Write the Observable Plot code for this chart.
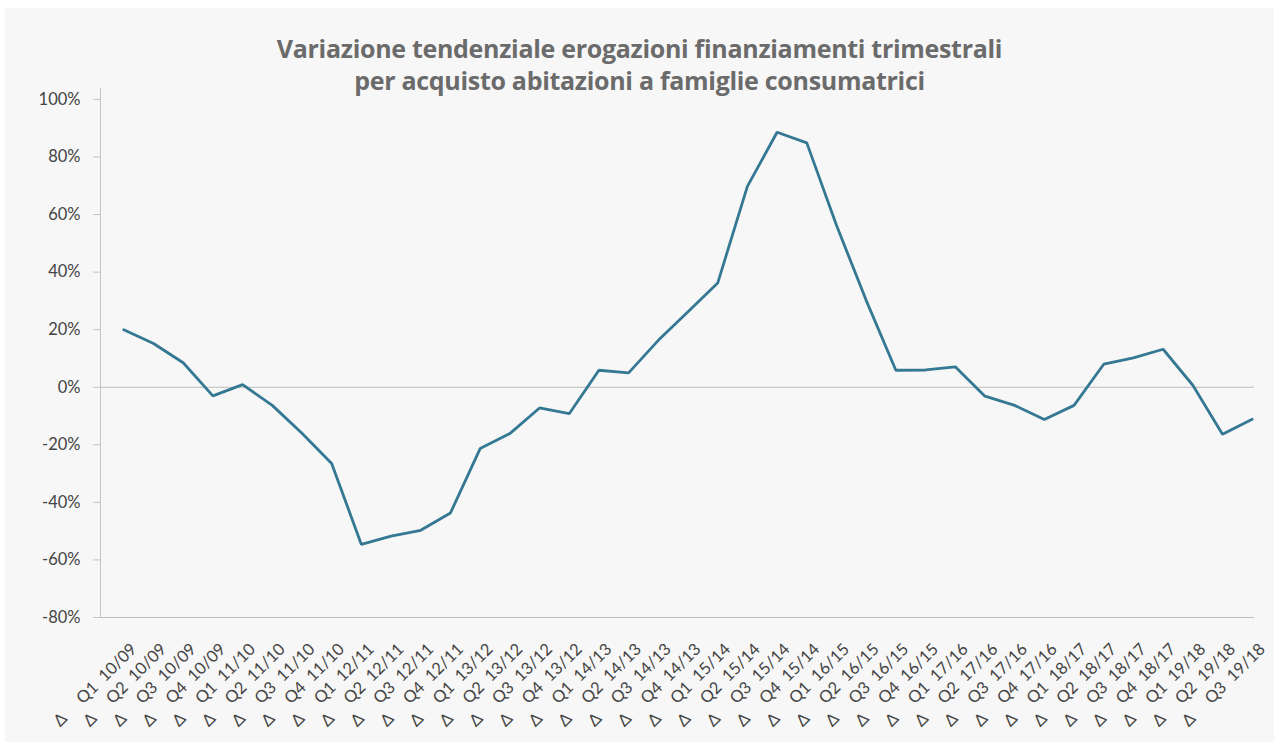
<!DOCTYPE html>
<html>
<head>
<meta charset="utf-8">
<script src="https://cdn.jsdelivr.net/npm/d3@7"></script>
<script src="https://cdn.jsdelivr.net/npm/@observablehq/plot@0.6"></script>
<style>
  html, body { margin: 0; padding: 0; background: #ffffff; }
  #panel { position: absolute; left: 5px; top: 8px; width: 1269px; height: 734px; background: #f7f7f7; }
  #title { position: absolute; left: 5px; top: 32px; width: 1269px; text-align: center;
           font-family: "Open Sans", sans-serif; font-weight: 700; font-size: 25px; line-height: 32px;
           color: #6b6b6b; letter-spacing: -0.3px; }
  #chart { position: absolute; left: 0; top: 80px; }
</style>
</head>
<body>
<div id="panel"></div>
<div id="title">Variazione tendenziale erogazioni finanziamenti trimestrali<br>per acquisto abitazioni a famiglie consumatrici</div>
<div id="chart"></div>
<script>
const quarters = ["Q1","Q2","Q3","Q4","Q1","Q2","Q3","Q4","Q1","Q2","Q3","Q4","Q1","Q2","Q3","Q4","Q1","Q2","Q3","Q4",
                  "Q1","Q2","Q3","Q4","Q1","Q2","Q3","Q4","Q1","Q2","Q3","Q4","Q1","Q2","Q3","Q4","Q1","Q2","Q3"];
const years = ["10/09","10/09","10/09","10/09","11/10","11/10","11/10","11/10","12/11","12/11","12/11","12/11",
               "13/12","13/12","13/12","13/12","14/13","14/13","14/13","14/13","15/14","15/14","15/14","15/14",
               "16/15","16/15","16/15","16/15","17/16","17/16","17/16","17/16","18/17","18/17","18/17","18/17",
               "19/18","19/18","19/18"];
const values = [20, 15.2, 8.5, -3, 0.9, -6.3, -16, -26.5, -54.6, -51.7, -49.7, -43.7, -21.3, -16.1, -7.2, -9.2,
                5.9, 5, 16.3, 26.2, 36.2, 69.8, 88.6, 84.9, 56.3, 30.2, 5.9, 6, 7.1, -3.1, -6.3, -11.2, -6.3,
                8, 10.2, 13.2, 0.7, -16.3, -11.1];
const yTicks = [-80, -60, -40, -20, 0, 20, 40, 60, 80, 100];

const nb = "\u00a0";
const labels = quarters.map((q, i) => `Δ${nb.repeat(5)}${q}${nb.repeat(2)}${years[i]}`);
const data = values.map((value, i) => ({i, label: labels[i], value}));

const font = "Lato, 'Open Sans', sans-serif";
const chart = Plot.plot({
  width: 1274,
  height: 662,
  marginTop: 8,
  marginBottom: 125,
  marginLeft: 100,
  marginRight: 20,
  style: {background: "transparent", fontFamily: font, overflow: "visible"},
  x: {type: "linear", domain: [0, labels.length - 1], range: [123.3, 1251.7], axis: null},
  y: {domain: [-80, 103.8], axis: null},
  marks: [
    Plot.frame({anchor: "left", stroke: "#c4c4c4"}),
    Plot.ruleY([-80, 0], {stroke: "#bdbdbd", strokeWidth: 1.2}),
    Plot.axisY({ticks: yTicks, tickSize: 7, text: null, label: null, stroke: "#c4c4c4"}),
    Plot.axisY({ticks: yTicks, tickSize: 0, tickPadding: 20, label: null, tickFormat: d => `${d}%`,
                fill: "#444", fontSize: 16.5, fontFamily: font, letterSpacing: "2.6px"}),
    Plot.line(data, {x: "i", y: "value", stroke: "#357893", strokeWidth: 2.8, strokeLinejoin: "miter"}),
    Plot.text(data, {x: "i", text: "label", frameAnchor: "bottom", rotate: -45, textAnchor: "end", lineAnchor: "middle",
                     dx: 10, dy: 29, fontSize: 16.5, fill: "#444", fontFamily: font, letterSpacing: "1.8px"})
  ]
});
document.getElementById("chart").appendChild(chart);
</script>
</body>
</html>
